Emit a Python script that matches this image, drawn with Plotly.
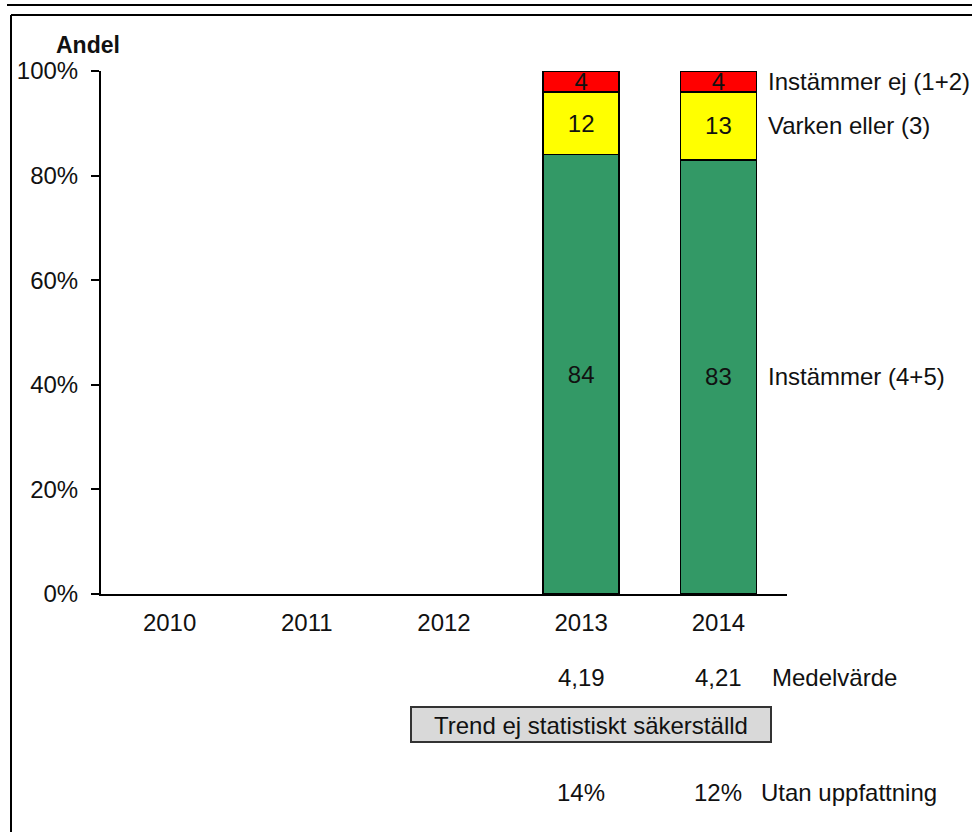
import plotly.graph_objects as go

# data
YEARS = ["2010", "2011", "2012", "2013", "2014"]
INSTAMMER = [None, None, None, 84, 83]      # Instämmer (4+5)
VARKEN = [None, None, None, 12, 13]         # Varken eller (3)
INSTAMMER_EJ = [None, None, None, 4, 4]     # Instämmer ej (1+2)
MEDEL = [None, None, None, "4,19", "4,21"]
UTAN = [None, None, None, 14, 12]
SERIES_NAMES = ["Instämmer (4+5)", "Varken eller (3)", "Instämmer ej (1+2)"]
Y_TICKS = [0, 20, 40, 60, 80, 100]
TREND_TEXT = "Trend ej statistiskt säkerställd"

COLORS = {
    "green": "#339966",
    "yellow": "#FFFF00",
    "red": "#FF0000",
    "text": "#111111",
    "box": "#D9D9D9",
}
FONT = "Liberation Sans, Arial, sans-serif"
FS = 24

W, H = 972, 832
L, R, T, B = 101, 787, 71, 594   # plot area in pixels


def px(x):
    return (x - L) / (R - L)


def py(y):
    return (B - y) / (B - T)


def txt(size=FS):
    return dict(family=FONT, size=size, color=COLORS["text"])


fig = go.Figure()
for vals, name, col in zip([INSTAMMER, VARKEN, INSTAMMER_EJ], SERIES_NAMES,
                           [COLORS["green"], COLORS["yellow"], COLORS["red"]]):
    fig.add_trace(go.Bar(
        x=YEARS, y=vals, name=name,
        marker=dict(color=col, line=dict(color="black", width=1.5)),
        width=0.554,
        text=[str(v) if v is not None else "" for v in vals],
        textposition="inside", insidetextanchor="middle", textangle=0,
        textfont=txt(),
        showlegend=False,
    ))

annotations = []
# series labels to the right, at the middle of the last bar's segments
base = 0
for vals, name in zip([INSTAMMER, VARKEN, INSTAMMER_EJ], SERIES_NAMES):
    annotations.append(dict(
        x=px(766), y=base + vals[-1] / 2, xref="paper", yref="y",
        text=name, showarrow=False, xanchor="left", yanchor="middle",
        font=txt(),
    ))
    base += vals[-1]

# mean values and "no opinion" rows, under each category
for i, (m, u) in enumerate(zip(MEDEL, UTAN)):
    if m is not None:
        annotations.append(dict(
            x=i, y=py(677), xref="x", yref="paper", text=m, showarrow=False,
            xanchor="center", yanchor="middle", font=txt(),
        ))
    if u is not None:
        annotations.append(dict(
            x=i, y=py(792), xref="x", yref="paper", text=f"{u}%", showarrow=False,
            xanchor="center", yanchor="middle", font=txt(),
        ))
annotations += [
    dict(x=px(770), y=py(677), xref="paper", yref="paper", text="Medelvärde",
         showarrow=False, xanchor="left", yanchor="middle", font=txt()),
    dict(x=px(759), y=py(792), xref="paper", yref="paper", text="Utan uppfattning",
         showarrow=False, xanchor="left", yanchor="middle", font=txt()),
    dict(x=px(591), y=py(725), xref="paper", yref="paper", text=TREND_TEXT,
         showarrow=False, xanchor="center", yanchor="middle", font=txt()),
    dict(x=px(54), y=py(45), xref="paper", yref="paper", text="<b>Andel</b>",
         showarrow=False, xanchor="left", yanchor="middle", font=txt(23)),
]

shapes = [
    # trend box
    dict(type="rect", xref="paper", yref="paper",
         x0=px(411), x1=px(771), y0=py(707), y1=py(742),
         fillcolor=COLORS["box"], line=dict(color="#333333", width=2), layer="below"),
    # outer frame lines
    dict(type="line", xref="paper", yref="paper", x0=px(7), x1=px(972),
         y0=py(5), y1=py(5), line=dict(color="black", width=2)),
    dict(type="line", xref="paper", yref="paper", x0=px(11), x1=px(972),
         y0=py(15), y1=py(15), line=dict(color="black", width=2)),
    dict(type="line", xref="paper", yref="paper", x0=px(11), x1=px(11),
         y0=py(15), y1=py(832), line=dict(color="black", width=2)),
]

fig.update_layout(
    width=W, height=H,
    barmode="stack",
    plot_bgcolor="white", paper_bgcolor="white",
    font=txt(),
    margin=dict(l=L, r=W - R, t=T, b=H - B, autoexpand=False),
    uniformtext=dict(minsize=FS, mode="show"),
    annotations=annotations,
    shapes=shapes,
)
fig.update_xaxes(
    type="category", categoryorder="array", categoryarray=YEARS,
    range=[-0.5, 4.5], showline=True, linecolor="black", linewidth=2,
    ticks="", showgrid=False, zeroline=False, ticklabelstandoff=6,
    tickfont=txt(), automargin=False,
)
fig.update_yaxes(
    range=[0, 100], tickvals=Y_TICKS, ticktext=[f"{v}%" for v in Y_TICKS],
    showline=True, linecolor="black", linewidth=2,
    ticks="outside", ticklen=8, tickwidth=2, tickcolor="black",
    showgrid=False, zeroline=False, ticklabelstandoff=8,
    tickfont=txt(), automargin=False,
)

fig.write_html("out.html", config={"displayModeBar": False},
               post_script="document.body.style.margin='0px';")
